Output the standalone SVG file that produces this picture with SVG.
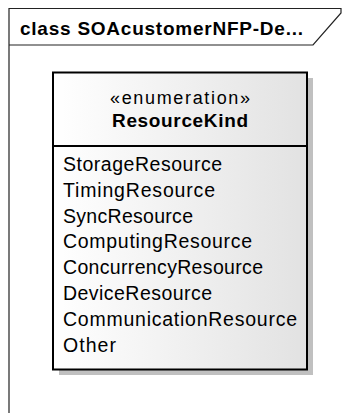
<svg xmlns="http://www.w3.org/2000/svg" width="342" height="413" viewBox="0 0 342 413">
  <defs>
    <linearGradient id="boxFill" x1="0" y1="0" x2="1" y2="0">
      <stop offset="0" stop-color="#ffffff"/>
      <stop offset="1" stop-color="#e2e2e2"/>
    </linearGradient>
  </defs>
  <style>
    .frame { fill: none; stroke: #222; stroke-width: 1.2; }
    .title { font-family: "Liberation Sans", Arial, sans-serif; font-weight: bold; font-size: 19px; fill: #000; }
    .stereo { font-family: "Liberation Sans", Arial, sans-serif; font-size: 18px; fill: #000; }
    .name { font-family: "Liberation Sans", Arial, sans-serif; font-weight: bold; font-size: 19px; fill: #000; }
    .item { font-family: "Liberation Sans", Arial, sans-serif; font-size: 19.5px; fill: #000; }
  </style>
  <rect width="342" height="413" fill="#ffffff"/>
  <g id="frame">
    <path class="frame" d="M9,413 V8.5 H341 V13 L313,45 H9"/>
    <text class="title" x="20" y="35" textLength="283" lengthAdjust="spacing">class SOAcustomerNFP-De...</text>
  </g>
  <g id="connectors"></g>
  <g id="ResourceKind">
    <rect x="59" y="78" width="254" height="297" fill="#c0c0c0"/>
    <rect x="53" y="72.5" width="254" height="297" fill="url(#boxFill)" stroke="#000" stroke-width="2"/>
    <line x1="53" y1="146" x2="307" y2="146" stroke="#000" stroke-width="2"/>
    <text class="stereo" x="180" y="104" text-anchor="middle" textLength="140" lengthAdjust="spacing">«enumeration»</text>
    <text class="name" x="180" y="127" text-anchor="middle" textLength="136" lengthAdjust="spacing">ResourceKind</text>
    <text class="item" x="63" y="171" textLength="159" lengthAdjust="spacing">StorageResource</text>
    <text class="item" x="63" y="196.8" textLength="152" lengthAdjust="spacing">TimingResource</text>
    <text class="item" x="63" y="222.6" textLength="130" lengthAdjust="spacing">SyncResource</text>
    <text class="item" x="63" y="248.4" textLength="189" lengthAdjust="spacing">ComputingResource</text>
    <text class="item" x="63" y="274.2" textLength="200" lengthAdjust="spacing">ConcurrencyResource</text>
    <text class="item" x="63" y="300" textLength="149" lengthAdjust="spacing">DeviceResource</text>
    <text class="item" x="63" y="325.8" textLength="234" lengthAdjust="spacing">CommunicationResource</text>
    <text class="item" x="63" y="351.6" textLength="53" lengthAdjust="spacing">Other</text>
  </g>
</svg>
